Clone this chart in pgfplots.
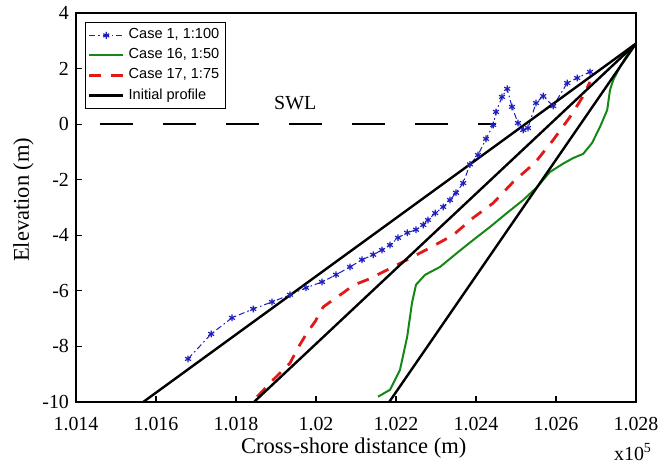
\documentclass[border=0pt]{standalone}
\usepackage{pgfplots}
\pgfplotsset{compat=1.18}
\usetikzlibrary{calc}
\usepackage{fontspec}
\setmainfont{Liberation Serif}
\newfontfamily\legfont{Liberation Sans}
\definecolor{cblue}{RGB}{30,30,190}
\definecolor{cgreen}{RGB}{20,135,20}
\definecolor{cred}{RGB}{225,25,25}
\begin{document}
\begin{tikzpicture}
\begin{axis}[name=ax, scale only axis, width=280bp, height=194.5bp,
  xmin=1.014, xmax=1.028, ymin=-10, ymax=4,
  xtick={1.014,1.016,1.018,1.020,1.022,1.024,1.026,1.028},
  xticklabels={1.014,1.016,1.018,1.02,1.022,1.024,1.026,1.028},
  ytick={-10,-8,-6,-4,-2,0,2,4},
  yticklabels={-10,-8,-6,-4,-2,0,2,4},
  tick align=inside, tick pos=left, major tick length=3bp,
  axis line style={line width=1bp},
  every tick/.style={line width=0.6bp},
  ticklabel style={font=\fontsize{10}{12}\selectfont},
  xticklabel style={yshift=-4bp},
  xlabel={Cross-shore distance (m)},
  ylabel={Elevation (m)},
  label style={font=\fontsize{11.3}{13}\selectfont},
  xlabel style={at={(axis description cs:0.496,-0.118)}, anchor=center},
  ylabel style={at={(axis description cs:-0.094,0.52)}, anchor=center},
  legend style={at={(rel axis cs:0.016,0.977)}, anchor=north west, draw=black, line width=0.5bp,
    font=\legfont\fontsize{7.3}{8.3}\selectfont, inner sep=1.2bp, row sep=-0.6bp},
  legend cell align=left,
  clip=false,
]
\addplot[cblue, line width=0.5bp, dash pattern=on 3bp off 1.5bp on 0.8bp off 1.5bp,
  mark=asterisk, mark size=1.7bp, mark options={solid, line width=0.6bp}] coordinates {
(1.0168,-8.45) (1.01738,-7.55) (1.0179,-6.97) (1.01843,-6.65) (1.0189,-6.40)
(1.01935,-6.14) (1.01975,-5.89) (1.02015,-5.68) (1.0205,-5.42) (1.02085,-5.14)
(1.02115,-4.88) (1.02143,-4.70) (1.02165,-4.53) (1.02185,-4.35) (1.02205,-4.09)
(1.02228,-3.91) (1.0225,-3.80) (1.02268,-3.63) (1.0228,-3.45) (1.02298,-3.20)
(1.02318,-2.98) (1.02335,-2.73) (1.0235,-2.47) (1.02368,-2.12) (1.02385,-1.45)
(1.02405,-1.11) (1.02425,-0.53) (1.02443,-0.03) (1.0245,0.44) (1.02465,0.98)
(1.02478,1.27) (1.0249,0.62) (1.02505,0.04) (1.02518,-0.21) (1.0253,-0.14)
(1.0255,0.76) (1.02568,1.01) (1.02593,0.65) (1.02628,1.48) (1.02653,1.66)
(1.02685,1.88)};
\addlegendentry{Case 1, 1:100}
\addplot[cgreen, line width=1bp] coordinates {
(1.02155,-9.81) (1.02185,-9.56) (1.0221,-8.84) (1.02228,-7.65) (1.0224,-6.43)
(1.0225,-5.78) (1.02273,-5.42) (1.0231,-5.14) (1.02353,-4.63) (1.02393,-4.17)
(1.02435,-3.70) (1.02478,-3.19) (1.02518,-2.73) (1.02553,-2.26) (1.02585,-1.72)
(1.02618,-1.42) (1.02643,-1.22) (1.02668,-1.07) (1.0269,-0.68) (1.0271,-0.10)
(1.02728,0.51) (1.02735,1.23) (1.02743,1.59) (1.0276,2.06) (1.02793,2.85)};
\addlegendentry{Case 16, 1:50}
\addplot[cred, line width=1.4bp, dash pattern=on 6bp off 5bp] coordinates {
(1.01853,-9.81) (1.01893,-9.20) (1.01935,-8.60) (1.01955,-8.05) (1.01978,-7.50)
(1.01998,-7.10) (1.02018,-6.58) (1.02043,-6.32) (1.02068,-6.07) (1.02093,-5.80)
(1.02128,-5.60) (1.02168,-5.32) (1.02228,-4.88) (1.02285,-4.45) (1.02343,-3.99)
(1.02393,-3.37) (1.02443,-2.84) (1.02493,-2.08) (1.02548,-1.38) (1.02593,-0.57)
(1.02635,0.26) (1.02665,0.94) (1.02685,1.52)};
\addlegendentry{Case 17, 1:75}
\addplot[black, line width=1.2bp] coordinates {(1.01568,-10) (1.028,2.9)};
\addlegendentry{Initial profile}
\addplot[black, line width=1.2bp, forget plot] coordinates {(1.01845,-10) (1.028,2.9)};
\addplot[black, line width=1.2bp, forget plot] coordinates {(1.02183,-10) (1.028,2.9)};
\addplot[black, line width=0.9bp, dash pattern=on 16.5bp off 15bp, forget plot] coordinates {(1.0146,0) (1.0245,0)};
\node[font=\fontsize{10}{12}\selectfont] at (axis cs:1.01948,0.76) {SWL};
\node[font=\fontsize{10}{12}\selectfont] at ($(rel axis cs:1,0)+(-1.5bp,-25bp)$) {x10\textsuperscript{5}};
\end{axis}
\pgfresetboundingbox
\useasboundingbox ($(ax.south west)+(-38bp,-31bp)$) rectangle ($(ax.north east)+(12bp,6.5bp)$);
\end{tikzpicture}
\end{document}
